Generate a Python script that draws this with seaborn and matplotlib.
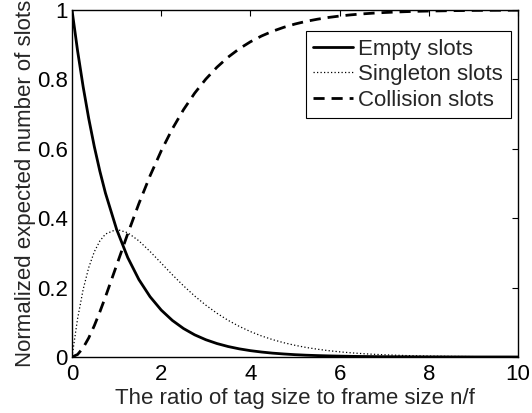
import matplotlib
matplotlib.use("Agg")
import matplotlib.pyplot as plt
import seaborn as sns
import pandas as pd

x_ratio = [0, 0.125, 0.25, 0.375, 0.5, 0.625, 0.75, 1, 1.25, 1.5, 1.75, 2, 2.25, 2.5, 2.75, 3,
           3.25, 3.5, 3.75, 4, 4.25, 4.5, 4.75, 5, 5.25, 5.5, 5.75, 6, 6.25, 6.5,
           6.75, 7, 7.25, 7.5, 7.75, 8, 8.25, 8.5, 8.75, 9, 9.25, 9.5, 9.75, 10]
empty_slots = [1, 0.8825, 0.7788, 0.6873, 0.6065, 0.5353, 0.4724, 0.3679, 0.2865, 0.2231, 0.1738,
               0.1353, 0.1054, 0.0821, 0.0639, 0.0498, 0.0388, 0.0302, 0.0235, 0.0183,
               0.0143, 0.0111, 0.0087, 0.0067, 0.0052, 0.0041, 0.0032, 0.0025, 0.0019,
               0.0015, 0.0012, 0.0009, 0.0007, 0.0006, 0.0004, 0.0003, 0.0003, 0.0002,
               0.0002, 0.0001, 0.0001, 0.0001, 0.0001, 0.0]
singleton_slots = [0, 0.1103, 0.1947, 0.2577, 0.3033, 0.3345, 0.3543, 0.3679, 0.3581, 0.3347, 0.3041,
                   0.2707, 0.2371, 0.2052, 0.1758, 0.1494, 0.1261, 0.1057, 0.0882, 0.0733,
                   0.0606, 0.0500, 0.0411, 0.0337, 0.0275, 0.0225, 0.0183, 0.0149, 0.0121,
                   0.0098, 0.0079, 0.0064, 0.0052, 0.0041, 0.0033, 0.0027, 0.0022, 0.0017,
                   0.0014, 0.0011, 0.0009, 0.0007, 0.0006, 0.0005]
collision_slots = [0, 0.0072, 0.0265, 0.0550, 0.0902, 0.1302, 0.1733, 0.2642, 0.3554, 0.4422, 0.5221,
                   0.5940, 0.6575, 0.7127, 0.7603, 0.8008, 0.8351, 0.8641, 0.8883, 0.9084,
                   0.9251, 0.9389, 0.9502, 0.9596, 0.9673, 0.9734, 0.9785, 0.9826, 0.9860,
                   0.9887, 0.9909, 0.9927, 0.9941, 0.9953, 0.9963, 0.9970, 0.9975, 0.9981,
                   0.9984, 0.9988, 0.9990, 0.9992, 0.9993, 0.9995]
series_names = ["Empty slots", "Singleton slots", "Collision slots"]
x_ticks = [0, 2, 4, 6, 8, 10]
y_ticks = [0, 0.2, 0.4, 0.6, 0.8, 1]
y_tick_labels = ["0", "0.2", "0.4", "0.6", "0.8", "1"]

sns.set_style("white")
plt.rcParams["font.family"] = ["Liberation Sans", "DejaVu Sans"]

fig = plt.figure(figsize=(5.32, 4.13), dpi=100)
ax = fig.add_axes([72 / 532, 1 - 357 / 413, (518 - 72) / 532, (357 - 10) / 413])

styles = [dict(linestyle="-", linewidth=2.0),
          dict(linestyle=(0, (1, 1.8)), linewidth=0.9),
          dict(linestyle=(0, (4, 2.5)), linewidth=2.0)]
for name, vals, st in zip(series_names, [empty_slots, singleton_slots, collision_slots], styles):
    df = pd.DataFrame({"x": x_ratio, "y": vals})
    sns.lineplot(data=df, x="x", y="y", ax=ax, color="black", label=name, **st)

ax.set_xlim(0, 10)
ax.set_ylim(0, 1)
ax.set_xticks(x_ticks)
ax.set_xticklabels([str(t) for t in x_ticks])
ax.set_yticks(y_ticks)
ax.set_yticklabels(y_tick_labels)
ax.tick_params(direction="in", top=True, right=True, length=4, width=0.8,
               labelsize=16, colors="black")
ax.tick_params(axis="x", pad=5)
ax.tick_params(axis="y", pad=3)
for s in ax.spines.values():
    s.set_visible(True)
    s.set_color("black")
    s.set_linewidth(1.0)
ax.set_xlabel("The ratio of tag size to frame size n/f", fontsize=16, labelpad=2)
ax.set_ylabel("Normalized expected number of slots", fontsize=16, labelpad=1)

leg = ax.legend(loc="upper right", bbox_to_anchor=(0.984, 0.9395), fontsize=16,
                frameon=True, fancybox=False, edgecolor="black", framealpha=1,
                borderpad=0.35, labelspacing=0.2, handlelength=1.8, handletextpad=0.22,
                borderaxespad=0)
leg.get_frame().set_linewidth(0.8)

fig.savefig("out.png", dpi=100)
